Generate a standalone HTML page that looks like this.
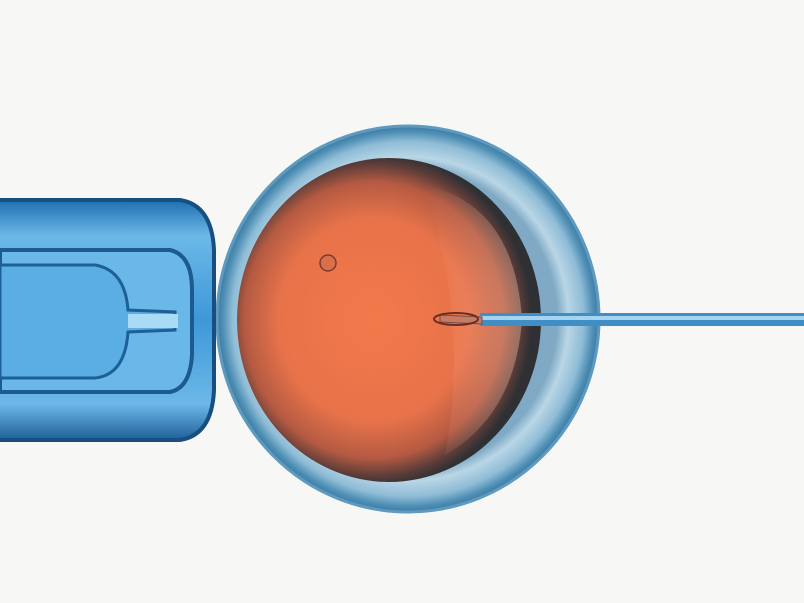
<!DOCTYPE html>
<html><head><meta charset="utf-8"><style>
html,body{margin:0;padding:0;background:#f7f7f5;width:804px;height:603px;overflow:hidden}
</style></head><body>
<svg width="804" height="603" viewBox="0 0 804 603" xmlns="http://www.w3.org/2000/svg">
<defs>
<radialGradient id="zona" cx="50%" cy="50%" r="50%">
<stop offset="0.78" stop-color="#7fa9c4"/>
<stop offset="0.84" stop-color="#b9d6e6"/>
<stop offset="0.92" stop-color="#8fbcd6"/>
<stop offset="0.97" stop-color="#4f8fb5"/>
<stop offset="1" stop-color="#3c7aa3"/>
</radialGradient>
<radialGradient id="cyto" cx="45%" cy="50%" r="52%">
<stop offset="0" stop-color="#f2794a"/>
<stop offset="0.6" stop-color="#e8734a"/>
<stop offset="0.82" stop-color="#b45a42"/>
<stop offset="0.93" stop-color="#5a3c38"/>
<stop offset="1" stop-color="#2e3034"/>
</radialGradient>
<linearGradient id="light" x1="0" y1="0" x2="1" y2="0">
<stop offset="0" stop-color="#f6a88a" stop-opacity="0"/>
<stop offset="1" stop-color="#f8c2ad" stop-opacity="0.8"/>
</linearGradient>
<linearGradient id="pip" x1="0" y1="0" x2="0" y2="1">
<stop offset="0" stop-color="#1f6fb0"/>
<stop offset="0.15" stop-color="#6cb8e8"/>
<stop offset="0.5" stop-color="#3d98d8"/>
<stop offset="0.85" stop-color="#6cb8e8"/>
<stop offset="1" stop-color="#1f5f98"/>
</linearGradient>
</defs>
<ellipse cx="408" cy="319" rx="191" ry="193" fill="url(#zona)"/>
<ellipse cx="408" cy="319" rx="191" ry="193" fill="none" stroke="#5e9ac0" stroke-width="3"/>
<ellipse cx="389" cy="320" rx="152" ry="162" fill="url(#cyto)"/>
<path d="M425 185 Q515 205 522 320 Q515 415 445 455 Q470 330 425 185Z" fill="url(#light)" opacity="0.5"/>
<circle cx="328" cy="263" r="8" fill="#d8704c" stroke="#7a3a2e" stroke-width="1.5"/>
<path d="M0 200 L180 200 Q212 205 214 250 L214 390 Q212 435 180 440 L0 440Z" fill="url(#pip)"/>
<path d="M0 200 L180 200 Q212 205 214 250 L214 390 Q212 435 180 440 L0 440" fill="none" stroke="#174f80" stroke-width="4"/>
<path d="M0 250 L170 250 Q192 255 192 290 L192 355 Q190 388 170 392 L0 392Z" fill="#6ab8e8" stroke="#1d5a8e" stroke-width="4"/>
<path d="M0 265 L95 265 Q125 270 128 310 L175 312 L175 330 L128 332 Q125 375 95 378 L0 378Z" fill="#5aaee4" stroke="#1f5f98" stroke-width="3"/>
<rect x="128" y="314" width="50" height="14" fill="#a9dbf5"/>
<rect x="480" y="313" width="324" height="13" fill="#3f8ec6"/>
<rect x="480" y="316" width="324" height="4" fill="#a6d4ef"/>
<path d="M440 315 L482 317 L482 324 L440 322Z" fill="#c97a63" stroke="#7a4a40" stroke-width="1"/>
<ellipse cx="456" cy="319" rx="22" ry="6" fill="none" stroke="#6a2e28" stroke-width="2"/>
</svg>
</body></html>
